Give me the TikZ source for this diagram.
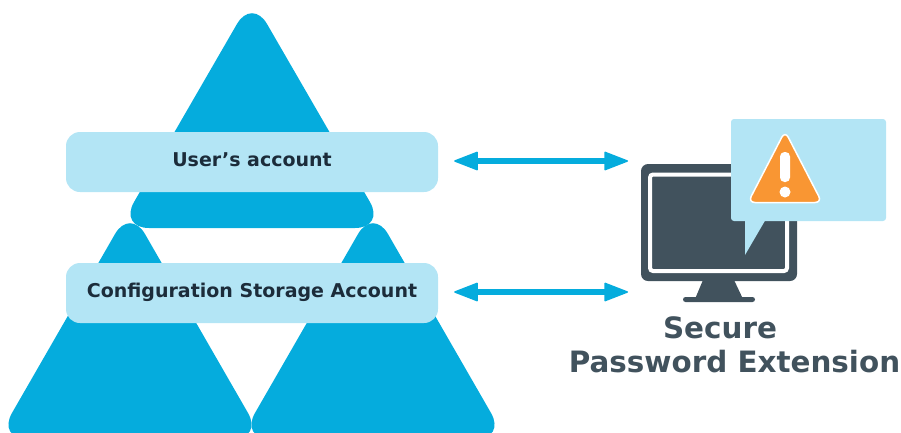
\documentclass[tikz,border=0pt]{standalone}
\usepackage{fontspec}
\setmainfont{DejaVu Sans}
\usetikzlibrary{positioning, arrows.meta}
\definecolor{triblue}{HTML}{05ACDD}
\definecolor{paleblue}{HTML}{B3E5F5}
\definecolor{slate}{HTML}{41525D}
\definecolor{inkdark}{HTML}{1C2C3A}
\definecolor{warnorange}{HTML}{F99633}

\begin{document}
\begin{tikzpicture}[x=1pt, y=-1pt,
    tri/.style={fill=triblue, rounded corners=30pt},
    accountbox/.style={fill=paleblue, rounded corners=14pt, minimum width=372pt, minimum height=60pt,
        inner sep=0pt, text=inkdark, text height=14pt, text depth=4.6pt, font=\fontsize{19}{24}\selectfont\bfseries},
    bighead/.tip={Triangle[length=25pt, width=19pt, line width=1.5pt, round]},
    link/.style={bighead-bighead, triblue, line width=6pt},
    caption/.style={inner sep=0pt, text=slate, font=\fontsize{29.4}{34}\selectfont\bfseries}]
    \clip (0,0) rectangle (901,432);
    \useasboundingbox (0,0) rectangle (901,432);

    % triangles
    \fill[tri] (252,-2) -- (385,228) -- (119,228) -- cycle;
    \fill[tri] (130,208) -- (263,439) -- (-3,439) -- cycle;
    \fill[tri] (373,208) -- (506,439) -- (240,439) -- cycle;

    % accounts
    \node[accountbox] (user) at (252,162) {User’s account};
    \node[accountbox] (config) at (252,293) {Configuration Storage Account};

    % monitor
    \fill[slate, rounded corners=7pt] (641,164) rectangle (797,281);
    \draw[white, line width=4pt, rounded corners=3pt] (650,174.5) rectangle (787,271);
    \fill[slate] (703,280) -- (734,280) -- (743,299) -- (695,299) -- cycle;
    \fill[slate, rounded corners=2.5pt] (683,297) rectangle (755,302);
    \coordinate (userend) at (628,161);
    \coordinate (configend) at (628,292);

    % bubble
    \fill[paleblue, rounded corners=3pt] (731,119) rectangle (886,221);
    \fill[paleblue] (745,219) -- (745,255) -- (766,219) -- cycle;
    \draw[white, fill=warnorange, line width=1.5pt, rounded corners=7pt] (785,131) -- (822,202.5) -- (748,202.5) -- cycle;
    \fill[white, rounded corners=4.5pt] (780,152) rectangle (790,182);
    \fill[white] (785,192) circle (5.5);

    % arrows
    \draw[link, shorten <=16pt] (user.east |- userend) -- (userend);
    \draw[link, shorten <=16pt] (config.east |- configend) -- (configend);

    \node[caption] (secure) at (720,328) {Secure};
    \node[caption] (extension) at (734.5,361.5) {Password Extension};
\end{tikzpicture}
\end{document}
